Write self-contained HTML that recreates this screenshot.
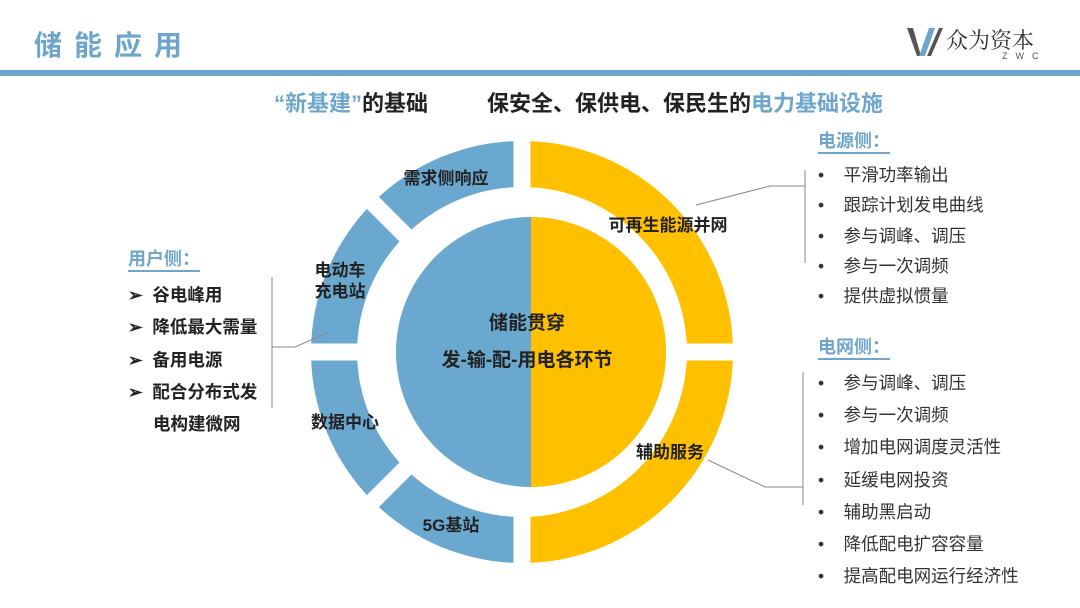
<!DOCTYPE html>
<html><head><meta charset="utf-8"><style>
body{margin:0;width:1080px;height:608px;background:#fff;overflow:hidden;position:relative;font-family:"Liberation Sans","Noto Sans CJK SC",sans-serif}
.a{position:absolute;white-space:nowrap}
.h{color:#6ea6cb;font-weight:bold;font-size:18px;border-bottom:2px solid #6ea6cb;line-height:21px}
.r{font-size:17.5px;color:#333}
.l{font-size:17.5px;color:#222;font-weight:bold}
</style></head><body>
<div class="a" style="left:34px;top:24px;font-size:28px;font-weight:bold;color:#6ea6cb;letter-spacing:12px">储能应用</div>
<svg class="a" style="left:905px;top:24px" width="40" height="36"><path d="M2 4 L12 32 L16 32 L8 4Z" fill="#555"/><path d="M14 32 L24 4 L30 4 L20 32Z" fill="#6ea6cb"/><path d="M22 32 L34 4 L38 4 L26 32Z" fill="#555"/></svg>
<div class="a" style="left:946px;top:24px;font-size:22px;color:#333;font-family:'Noto Serif CJK SC',serif">众为资本</div>
<div class="a" style="left:1002px;top:51px;font-size:9px;color:#555;letter-spacing:8px">ZWC</div>
<div class="a" style="left:0;top:70px;width:1080px;height:6px;background:#6ea6cb"></div>
<div class="a" style="left:274px;top:86px;font-size:22px;font-weight:bold;color:#222"><span style="color:#6ea6cb">“新基建”</span>的基础</div>
<div class="a" style="left:487px;top:86px;font-size:22px;font-weight:bold;color:#222">保安全、保供电、保民生的<span style="color:#6ea6cb">电力基础设施</span></div>
<svg class="a" style="left:0;top:0" width="1080" height="608">
<g transform="translate(522,352)">
<path d="M0 -211 A211 211 0 0 0 0 211 L0 165 A165 165 0 0 1 0 -165Z" fill="#6aa8d0"/>
<path d="M0 -211 A211 211 0 0 1 0 211 L0 165 A165 165 0 0 0 0 -165Z" fill="#ffc000"/>
<g stroke="#fff" stroke-width="17">
<line x1="0" y1="-220" x2="0" y2="220"/>
<line x1="-220" y1="0" x2="220" y2="0"/>
<line x1="-150" y1="-150" x2="-100" y2="-100"/>
<line x1="-150" y1="150" x2="-100" y2="100"/>
</g>
<path d="M9 -135 A135 135 0 0 0 9 135Z" fill="#6aa8d0"/>
<path d="M9 -135 A135 135 0 0 1 9 135Z" fill="#ffc000"/>
</g>
<g stroke="#888" stroke-width="1" fill="none">
<polyline points="696,205 770,186 805,186"/><line x1="805" y1="170" x2="805" y2="263"/>
<polyline points="708,460 765,487 803,487"/><line x1="803" y1="372" x2="803" y2="505"/>
<polyline points="327,333 295,347 272,347"/><line x1="272" y1="277" x2="272" y2="408"/>
</g>
<g font-weight="bold" font-size="17" fill="#222" text-anchor="middle" font-family="Liberation Sans,Noto Sans CJK SC,sans-serif">
<text x="446" y="184">需求侧响应</text><text x="668" y="231">可再生能源并网</text>
<text x="340" y="276">电动车</text><text x="340" y="297">充电站</text>
<text x="345" y="428">数据中心</text><text x="670" y="458">辅助服务</text><text x="451" y="531">5G基站</text>
<text x="527" y="329" font-size="19">储能贯穿</text><text x="527" y="366" font-size="19">发-输-配-用电各环节</text>
</g></svg>
<div class="a h" style="left:818px;top:131px">电源侧：</div>
<div class="a h" style="left:818px;top:337px">电网侧：</div>
<div class="a h" style="left:128px;top:249px">用户侧：</div>
<div class="a r" style="left:818px;top:160px;line-height:30.3px">•&nbsp;&nbsp;&nbsp;&nbsp;平滑功率输出<br>•&nbsp;&nbsp;&nbsp;&nbsp;跟踪计划发电曲线<br>•&nbsp;&nbsp;&nbsp;&nbsp;参与调峰、调压<br>•&nbsp;&nbsp;&nbsp;&nbsp;参与一次调频<br>•&nbsp;&nbsp;&nbsp;&nbsp;提供虚拟惯量</div>
<div class="a r" style="left:818px;top:367px;line-height:32.2px">•&nbsp;&nbsp;&nbsp;&nbsp;参与调峰、调压<br>•&nbsp;&nbsp;&nbsp;&nbsp;参与一次调频<br>•&nbsp;&nbsp;&nbsp;&nbsp;增加电网调度灵活性<br>•&nbsp;&nbsp;&nbsp;&nbsp;延缓电网投资<br>•&nbsp;&nbsp;&nbsp;&nbsp;辅助黑启动<br>•&nbsp;&nbsp;&nbsp;&nbsp;降低配电扩容容量<br>•&nbsp;&nbsp;&nbsp;&nbsp;提高配电网运行经济性</div>
<div class="a l" style="left:128px;top:279px;line-height:32.3px">➢&nbsp;&nbsp;谷电峰用<br>➢&nbsp;&nbsp;降低最大需量<br>➢&nbsp;&nbsp;备用电源<br>➢&nbsp;&nbsp;配合分布式发<br><span style="padding-left:25px">电构建微网</span></div>
</body></html>
